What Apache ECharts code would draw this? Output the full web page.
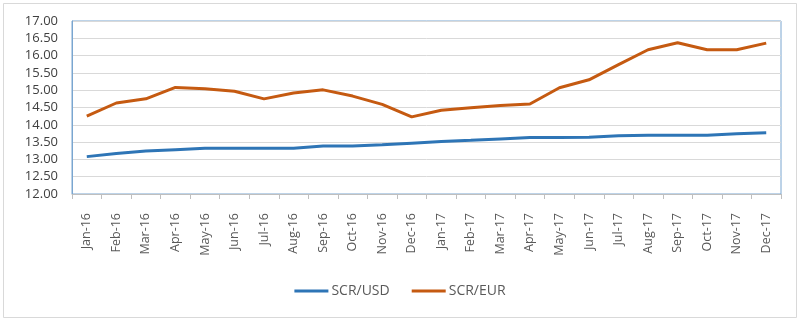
<!DOCTYPE html>
<html>
<head>
<meta charset="utf-8">
<script src="https://cdn.jsdelivr.net/npm/echarts@6/dist/echarts.min.js"></script>
<style>
  html, body { margin: 0; padding: 0; background: #fff; }
  #chart { width: 800px; height: 322px; }
</style>
</head>
<body>
<div id="chart"></div>
<script>
// Monthly exchange rates of the Seychelles rupee, 2016–2017
const months = [
  'Jan-16','Feb-16','Mar-16','Apr-16','May-16','Jun-16','Jul-16','Aug-16','Sep-16','Oct-16','Nov-16','Dec-16',
  'Jan-17','Feb-17','Mar-17','Apr-17','May-17','Jun-17','Jul-17','Aug-17','Sep-17','Oct-17','Nov-17','Dec-17'
];
const scrUsd = [
  13.08, 13.17, 13.24, 13.28, 13.32, 13.32, 13.32, 13.32, 13.39, 13.39, 13.42, 13.47,
  13.52, 13.55, 13.59, 13.63, 13.63, 13.64, 13.68, 13.70, 13.70, 13.70, 13.74, 13.77
];
const scrEur = [
  14.25, 14.63, 14.75, 15.08, 15.04, 14.97, 14.75, 14.92, 15.01, 14.83, 14.59, 14.23,
  14.42, 14.49, 14.56, 14.60, 15.07, 15.30, 15.74, 16.17, 16.37, 16.17, 16.17, 16.36
];
const yMin = 12, yMax = 17, yStep = 0.5;

const chart = echarts.init(document.getElementById('chart'), null, { renderer: 'canvas' });
const font = '"Open Sans", "Liberation Sans", sans-serif';

chart.setOption({
  animation: false,
  backgroundColor: '#ffffff',
  graphic: [{
    type: 'rect',
    shape: { x: 3.5, y: 3.5, width: 793, height: 314 },
    style: { fill: 'none', stroke: '#d9d9d9', lineWidth: 1 },
    silent: true
  }],
  grid: {
    left: 72, right: 19, top: 21, bottom: 128,
    show: true, borderColor: '#7aa6d0', borderWidth: 1, backgroundColor: 'transparent'
  },
  legend: {
    bottom: 19,
    left: 'center',
    icon: 'rect',
    itemWidth: 34,
    itemHeight: 3,
    itemGap: 22,
    textStyle: { fontFamily: font, fontSize: 14, color: '#595959', padding: [0, 0, 0, -2] },
    data: ['SCR/USD', 'SCR/EUR']
  },
  xAxis: {
    type: 'category',
    data: months,
    boundaryGap: true,
    axisLine: { lineStyle: { color: '#bfbfbf', width: 1 } },
    axisTick: { show: true, alignWithLabel: false, length: 5, lineStyle: { color: '#bfbfbf' } },
    axisLabel: {
      interval: 0, rotate: 90, margin: 19,
      fontFamily: font, fontSize: 12.5, color: '#595959'
    }
  },
  yAxis: {
    type: 'value',
    min: yMin, max: yMax, interval: yStep,
    axisLine: { show: true, lineStyle: { color: '#7aa6d0', width: 1 } },
    axisTick: { show: false },
    splitLine: { lineStyle: { color: '#d9d9d9', width: 1 } },
    axisLabel: {
      margin: 14,
      fontFamily: font, fontSize: 13, color: '#404040',
      formatter: v => v.toFixed(2)
    }
  },
  series: [
    {
      name: 'SCR/USD', type: 'line', data: scrUsd,
      symbol: 'none', smooth: false,
      lineStyle: { color: '#2e75b6', width: 3 },
      itemStyle: { color: '#2e75b6' }
    },
    {
      name: 'SCR/EUR', type: 'line', data: scrEur,
      symbol: 'none', smooth: false,
      lineStyle: { color: '#c55a11', width: 3 },
      itemStyle: { color: '#c55a11' }
    }
  ]
});
</script>
</body>
</html>
